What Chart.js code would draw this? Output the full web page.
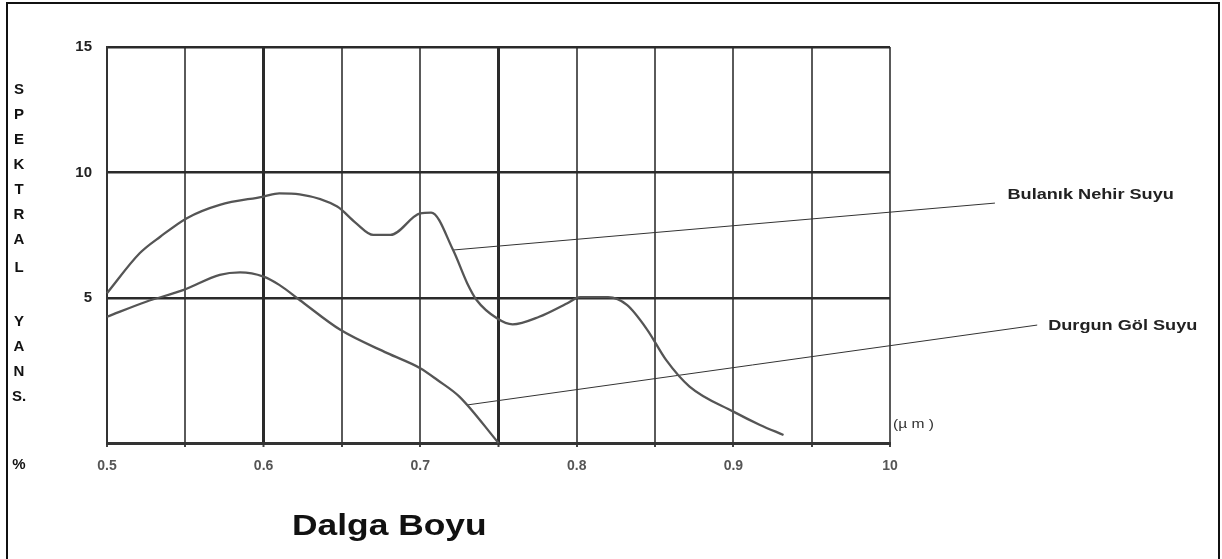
<!DOCTYPE html>
<html>
<head>
<meta charset="utf-8">
<script src="https://cdn.jsdelivr.net/npm/chart.js@4/dist/chart.umd.min.js"></script>
<style>
  html, body { margin: 0; padding: 0; background: #fff; overflow: hidden; }
  #wrap { position: relative; width: 1222px; height: 559px; }
  #frame { position: absolute; left: 6px; top: 2px; width: 1214px; height: 600px;
           border: 2px solid #111; pointer-events: none; box-sizing: border-box; }
</style>
</head>
<body>
<div id="wrap">
  <canvas id="c" width="1222" height="559"></canvas>
  <div id="frame"></div>
</div>
<script>
// Wavelength (µm) / reflectance (%) samples along each curve
const nehirX = [0.500, 0.521, 0.534, 0.551, 0.572, 0.600, 0.610, 0.623, 0.647, 0.659, 0.670, 0.681, 0.700, 0.707, 0.721, 0.730, 0.736, 0.749, 0.759, 0.776, 0.794, 0.802, 0.820, 0.832, 0.845, 0.857, 0.872, 0.900, 0.917, 0.932];
const nehirY = [5.19, 6.79, 7.44, 8.18, 8.71, 9.04, 9.17, 9.13, 8.64, 7.98, 7.51, 7.51, 8.37, 8.40, 6.91, 5.59, 4.92, 4.19, 3.95, 4.25, 4.79, 5.03, 5.03, 4.72, 3.73, 2.53, 1.47, 0.47, -0.06, -0.46];

const golX = [0.500, 0.525, 0.549, 0.572, 0.585, 0.600, 0.610, 0.623, 0.649, 0.679, 0.700, 0.711, 0.725, 0.750];
const golY = [4.25, 4.85, 5.32, 5.92, 6.02, 5.85, 5.52, 4.92, 3.73, 2.80, 2.20, 1.73, 1.07, -0.78];

// Series names and the leader lines that tie them to the curves
const seriesNames = ['Bulanık Nehir Suyu', 'Durgun Göl Suyu'];
const nehirLeaderX = [0.721, 1.067];
const nehirLeaderY = [6.91, 8.78];
const golLeaderX = [0.7305, 1.094];
const golLeaderY = [0.74, 3.92];
const labelAnchorX = [1.075, 1.101];
const labelAnchorY = [9.10, 3.88];

// Axis ticks
const xGridValues = [0.5, 0.55, 0.6, 0.65, 0.7, 0.75, 0.8, 0.85, 0.9, 0.95, 1.0];
const xTickLabels = ['0.5', '', '0.6', '', '0.7', '', '0.8', '', '0.9', '', '10'];
const yTickValues = [5, 10, 15];
const yTickLabels = ['5', '10', '15'];
const yMin = -0.78, yMax = 15;

const yTitleLetters = ['S', 'P', 'E', 'K', 'T', 'R', 'A', 'L', '', 'Y', 'A', 'N', 'S.', '', '%'];
const xTitle = 'Dalga Boyu';
const unitText = '(µ m )';

const zip = (xs, ys) => xs.map((x, i) => ({ x: x, y: ys[i] }));

const curveStyle = {
  showLine: true, borderColor: '#555', borderWidth: 2.3, pointRadius: 0,
  cubicInterpolationMode: 'monotone', fill: false, clip: false
};
const leaderStyle = {
  showLine: true, borderColor: '#333', borderWidth: 1, pointRadius: 0,
  tension: 0, fill: false, clip: false
};

// draw text stretched horizontally by sx, anchored at its left edge
function wideText(ctx, text, x, y, sx) {
  ctx.save();
  ctx.translate(x, y);
  ctx.scale(sx, 1);
  ctx.fillText(text, 0, 0);
  ctx.restore();
}

const textPlugin = {
  id: 'texts',
  afterDraw(chart) {
    const ctx = chart.ctx;
    const xs = chart.scales.x, ys = chart.scales.y;
    ctx.save();
    ctx.fillStyle = '#111';
    // stacked vertical axis title
    ctx.font = 'bold 15px "Liberation Sans", Arial, sans-serif';
    ctx.textAlign = 'center';
    ctx.textBaseline = 'middle';
    const letterY = [90, 115, 140, 165, 190, 215, 240, 268, 0, 322, 347, 372, 397, 0, 465];
    yTitleLetters.forEach((t, i) => { if (t) ctx.fillText(t, 19, letterY[i]); });

    // horizontal axis title
    ctx.font = 'bold 29px "Liberation Sans", Arial, sans-serif';
    ctx.textAlign = 'left';
    wideText(ctx, xTitle, 292, 527, 1.22);

    // unit next to the axis end
    ctx.font = '12px "Liberation Sans", Arial, sans-serif';
    ctx.fillStyle = '#333';
    wideText(ctx, unitText, chart.chartArea.right + 3, 425, 1.3);

    // series names at the end of the leader lines
    ctx.font = 'bold 15px "Liberation Sans", Arial, sans-serif';
    ctx.fillStyle = '#222';
    seriesNames.forEach((name, i) => {
      wideText(ctx, name, xs.getPixelForValue(labelAnchorX[i]), ys.getPixelForValue(labelAnchorY[i]), 1.21);
    });
    ctx.restore();
  }
};

new Chart(document.getElementById('c'), {
  type: 'scatter',
  data: {
    datasets: [
      Object.assign({ label: seriesNames[0], data: zip(nehirX, nehirY) }, curveStyle),
      Object.assign({ label: seriesNames[1], data: zip(golX, golY) }, curveStyle),
      Object.assign({ label: 'l1', data: zip(nehirLeaderX, nehirLeaderY) }, leaderStyle),
      Object.assign({ label: 'l2', data: zip(golLeaderX, golLeaderY) }, leaderStyle)
    ]
  },
  options: {
    responsive: false,
    devicePixelRatio: 1,
    animation: false,
    layout: { padding: { left: 0, top: 47, right: 332, bottom: 0 } },
    plugins: { legend: { display: false }, tooltip: { enabled: false }, title: { display: false } },
    scales: {
      x: {
        type: 'linear', min: 0.5, max: 1.0,
        afterBuildTicks(scale) { scale.ticks = xGridValues.map(v => ({ value: v })); },
        afterFit(scale) { scale.height = 116; },
        grid: {
          color: ctx => (ctx.index === 2 || ctx.index === 5) ? '#2a2a2a' : '#5a5a5a',
          lineWidth: ctx => (ctx.index === 2 || ctx.index === 5) ? 3 : 2,
          drawTicks: true, tickLength: 4, tickColor: '#444', tickWidth: 2
        },
        border: { display: true, color: '#333', width: 3 },
        ticks: {
          autoSkip: false, maxRotation: 0, padding: 11, color: '#555',
          font: { family: '"Liberation Sans", Arial, sans-serif', size: 14, weight: 'bold' },
          callback: (v, i) => xTickLabels[i]
        }
      },
      y: {
        type: 'linear', min: yMin, max: yMax,
        afterBuildTicks(scale) { scale.ticks = yTickValues.map(v => ({ value: v })); },
        afterFit(scale) { scale.width = 107; },
        grid: {
          color: '#2a2a2a', lineWidth: 2.5, drawTicks: false, tickLength: 0
        },
        border: { display: true, color: '#333', width: 2 },
        ticks: {
          padding: 15, color: '#222',
          font: { family: '"Liberation Sans", Arial, sans-serif', size: 15, weight: 'bold' },
          callback: (v, i) => yTickLabels[i]
        }
      }
    }
  },
  plugins: [textPlugin]
});
</script>
</body>
</html>
